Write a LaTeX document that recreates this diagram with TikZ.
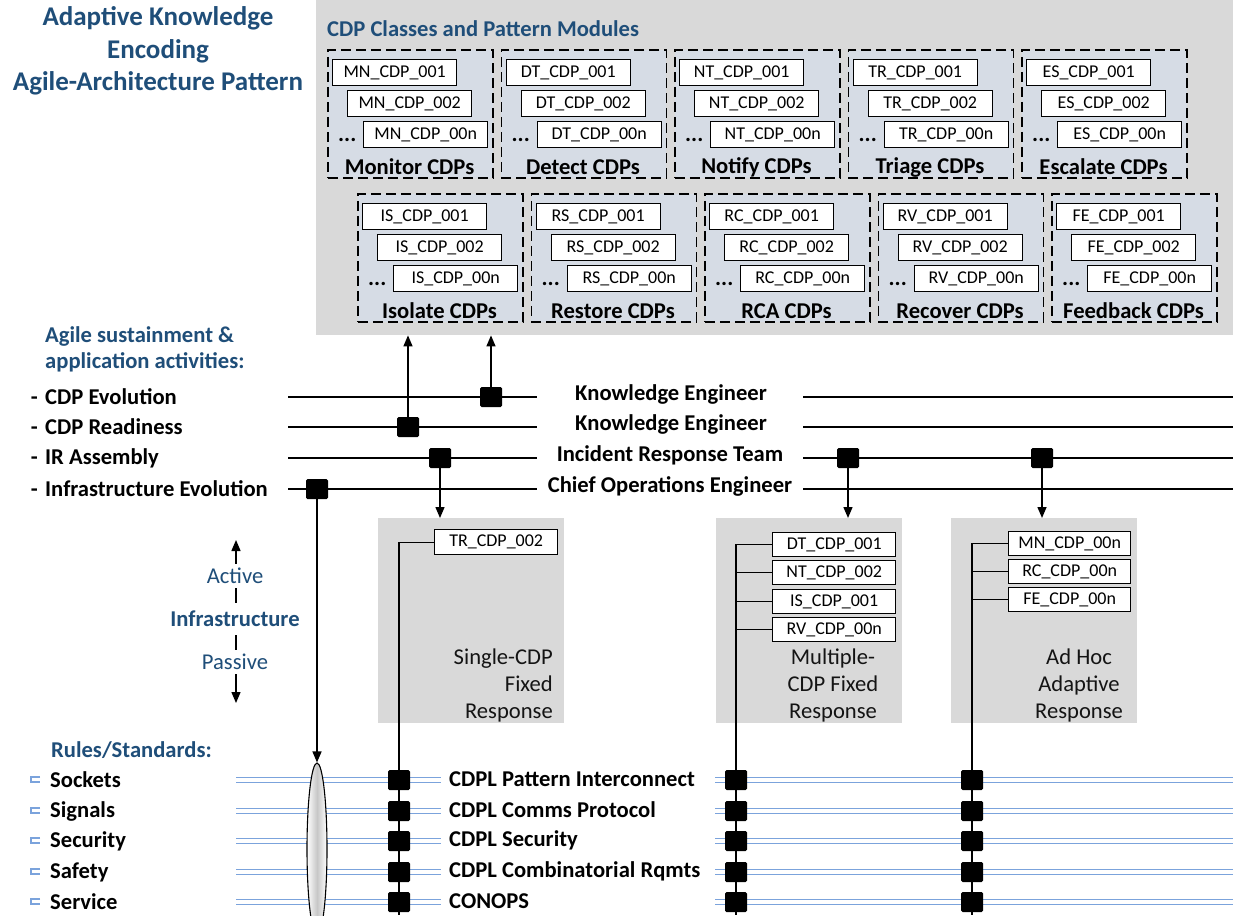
\documentclass[tikz,border=0pt]{standalone}
\usepackage{fontspec}
\setmainfont{Carlito}
\usetikzlibrary{arrows.meta,shapes.geometric}
\definecolor{blueT}{HTML}{1F4E79}
\definecolor{modfill}{HTML}{D6DCE5}
\definecolor{graybg}{HTML}{D9D9D9}
\definecolor{bline}{HTML}{7BA3DC}
\tikzset{
  lbl/.style={font=\fontsize{22.6}{26}\selectfont\bfseries, inner sep=0},
  resp/.style={font=\fontsize{22.6}{27}\selectfont, text=black!92, inner sep=0},
  modbox/.style={draw, line width=1.7pt, dash pattern=on 10pt off 5pt, fill=modfill, minimum width=165, minimum height=128, inner sep=0},
  cdpbox/.style={draw, fill=white, line width=1.4pt, minimum width=124, minimum height=26, inner sep=0, font=\fontsize{18}{20}\selectfont},
  rbox/.style={draw, fill=white, line width=1.4pt, minimum width=123, minimum height=24, inner sep=0, font=\fontsize{18}{20}\selectfont},
  hline/.style={line width=1.6pt},
  vline/.style={line width=1.4pt},
  arr/.style={line width=1.4pt, -{Triangle[width=9pt,length=11pt]}},
  sq/.style={fill=black, minimum width=22, minimum height=20, inner sep=0, rounded corners=1.5pt},
  dline/.style={draw=bline, line width=1.1pt, double=white, double distance=3.2pt},
  bul/.style={draw=bline, line width=1.1pt},
}
\newcommand{\cdpmodule}[4]{%
  \node[modbox, anchor=north west] (mod#1) at (#2,#3) {};
  \node[cdpbox, anchor=north west] (#1a) at (#2+5,#3+10) {#1\_CDP\_001};
  \node[cdpbox, anchor=north west] (#1b) at (#2+20,#3+41) {#1\_CDP\_002};
  \node[cdpbox, anchor=north west] (#1n) at (#2+36,#3+72) {#1\_CDP\_00n};
  \node[lbl, anchor=base west] (#1dots) at (#2+11,#3+92) {...};
  \node[lbl] (#1lbl) at (#2+82.5,#3+118) {#4};
}
\begin{document}
\begin{tikzpicture}[x=1pt,y=-1pt]
\clip (0,0) rectangle (1233,915);
\fill[white] (0,0) rectangle (1233,915);

% title
\node[font=\fontsize{27}{32.5}\selectfont\bfseries, text=blueT, align=center, inner sep=0] (title) at (158,51) {Adaptive Knowledge\\Encoding\\Agile-Architecture Pattern};

% library
\node[fill=graybg, anchor=north west, minimum width=917, minimum height=335, inner sep=0] (lib) at (316,0) {};
\node[lbl, text=blueT, anchor=west] (libt) at (327,29) {CDP Classes and Pattern Modules};

\cdpmodule{MN}{327}{49}{Monitor CDPs}
\cdpmodule{DT}{500.5}{49}{Detect CDPs}
\cdpmodule{NT}{674}{49}{Notify CDPs}
\cdpmodule{TR}{847.5}{49}{Triage CDPs}
\cdpmodule{ES}{1021}{49}{Escalate CDPs}
\cdpmodule{IS}{357}{193}{Isolate CDPs}
\cdpmodule{RS}{530.5}{193}{Restore CDPs}
\cdpmodule{RC}{704}{193}{RCA CDPs}
\cdpmodule{RV}{877.5}{193}{Recover CDPs}
\cdpmodule{FE}{1051}{193}{Feedback CDPs}

% activities
\node[lbl, text=blueT, align=left, anchor=west] (agile) at (45,349) {Agile sustainment \&\\application activities:};
\foreach \yy/\txt [count=\i] in {397/CDP Evolution, 427/CDP Readiness, 458/IR Assembly, 489/Infrastructure Evolution} {
  \node[lbl, anchor=west] (act\i) at (45,\yy) {\txt};
  \node[lbl, anchor=base east] (dash\i) at ([xshift=-7pt]act\i.base west) {-};
  \coordinate (La\i) at (288,\yy);
  \coordinate (Lb\i) at (537,\yy);
  \coordinate (Lc\i) at (803,\yy);
  \coordinate (Ld\i) at (1233,\yy);
  \draw[hline] (La\i) -- (Lb\i);
  \draw[hline] (Lc\i) -- (Ld\i);
}
\node[lbl] (role1) at (671,394) {Knowledge Engineer};
\node[lbl] (role2) at (671,424) {Knowledge Engineer};
\node[lbl] (role3) at (670,455) {Incident Response Team};
\node[lbl] (role4) at (670,486) {Chief Operations Engineer};

% response boxes
\node[fill=graybg, anchor=north west, minimum width=186, minimum height=205, inner sep=0] (single) at (378,518) {};
\node[fill=graybg, anchor=north west, minimum width=186, minimum height=205, inner sep=0] (multi) at (716,518) {};
\node[fill=graybg, anchor=north west, minimum width=186, minimum height=205, inner sep=0] (adhoc) at (951,518) {};

\node[rbox, anchor=north west, minimum height=25] (trr) at (434,529) {TR\_CDP\_002};
\node[rbox, anchor=north west] (dtr) at (772,532) {DT\_CDP\_001};
\node[rbox, anchor=north west] (ntr) at (772,560) {NT\_CDP\_002};
\node[rbox, anchor=north west] (isr) at (772,589) {IS\_CDP\_001};
\node[rbox, anchor=north west] (rvr) at (772,617) {RV\_CDP\_00n};
\node[rbox, anchor=north west, minimum width=122] (mnr) at (1008,531) {MN\_CDP\_00n};
\node[rbox, anchor=north west, minimum width=122] (rcr) at (1008,559) {RC\_CDP\_00n};
\node[rbox, anchor=north west, minimum width=122] (fer) at (1008,587) {FE\_CDP\_00n};

\node[resp, align=right, anchor=east] (singlet) at (553,685) {Single-CDP\\Fixed\\Response};
\node[resp, align=center] (multit) at (833,685) {Multiple-\\CDP Fixed\\Response};
\node[resp, align=center] (adhoct) at (1079,685) {Ad Hoc\\Adaptive\\Response};

% active / passive
\coordinate (ia) at (236,540);
\coordinate (ib) at (236,703);
\draw[line width=1.4pt, {Triangle[width=9pt,length=11pt]}-{Triangle[width=9pt,length=11pt]}] (ia) -- (ib);
\node[font=\fontsize{22.6}{26}\selectfont, text=blueT, fill=white, inner xsep=2, inner ysep=4] (active) at (235,576) {Active};
\node[font=\fontsize{22.6}{26}\selectfont\bfseries, text=blueT, fill=white, inner xsep=2, inner ysep=8] (infra) at (235,619) {Infrastructure};
\node[font=\fontsize{22.6}{26}\selectfont, text=blueT, fill=white, inner xsep=2, inner ysep=4] (passive) at (235,662) {Passive};

% rules / standards
\node[lbl, text=blueT, anchor=west] (rules) at (51,750) {Rules/Standards:};
\foreach \yy/\txt [count=\i] in {780/Sockets, 811/Signals, 841/Security, 872/Safety, 902/Service} {
  \node[lbl, anchor=west] (rs\i) at (50,\yy) {\txt};
  \draw[bul] (40,\yy-3) -- (31,\yy-3) -- (31,\yy+2) -- (40,\yy+2);
  \coordinate (Ba\i) at (236,\yy);
  \coordinate (Bb\i) at (441,\yy);
  \coordinate (Bc\i) at (715,\yy);
  \coordinate (Bd\i) at (1233,\yy);
  \draw[dline] (Ba\i) -- (Bb\i);
  \draw[dline] (Bc\i) -- (Bd\i);
}
\node[lbl, anchor=west] (std1) at (449,779) {CDPL Pattern Interconnect};
\node[lbl, anchor=west] (std2) at (449,810) {CDPL Comms Protocol};
\node[lbl, anchor=west] (std3) at (449,840) {CDPL Security};
\node[lbl, anchor=west] (std4) at (449,871) {CDPL Combinatorial Rqmts};
\node[lbl, anchor=west] (std5) at (449,901) {CONOPS};

% vertical bus lines
\coordinate (v1) at (399,915);
\coordinate (v2) at (736,915);
\coordinate (v3) at (972,915);
\draw[vline] (trr.west) -- (trr.west -| v1) -- (v1);
\draw[vline] (dtr.west) -- (dtr.west -| v2) -- (v2);
\foreach \n in {ntr,isr,rvr} \draw[vline] (\n.west) -- (\n.west -| v2);
\draw[vline] (mnr.west) -- (mnr.west -| v3) -- (v3);
\foreach \n in {rcr,fer} \draw[vline] (\n.west) -- (\n.west -| v3);

\foreach \yy/\i in {780/1,811/2,841/3,872/4,902/5} {
  \node[sq] (sa\i) at (399,\yy) {};
  \node[sq] (sb\i) at (736,\yy) {};
  \node[sq] (sc\i) at (972,\yy) {};
}

% ellipse
\node[ellipse, draw, line width=1.1pt, minimum width=20, minimum height=172, inner sep=0, left color=white, right color=white, middle color=black!22] (ell) at (317,849) {};

% markers on activity lines
\node[sq] (m1) at (491,397) {};
\node[sq] (m2) at (408,427) {};
\node[sq] (m3) at (440,458) {};
\node[sq] (m4) at (317,489) {};
\node[sq] (m5) at (848,458) {};
\node[sq] (m6) at (1042,458) {};

\draw[arr] (m1.north) -- (m1 |- lib.south);
\draw[arr] (m2.north) -- (m2 |- lib.south);
\draw[arr] (m3.south) -- (m3 |- single.north);
\draw[arr] (m5.south) -- (m5 |- multi.north);
\draw[arr] (m6.south) -- (m6 |- adhoc.north);
\draw[arr] (m4.south) -- (ell.north);
\end{tikzpicture}
\end{document}
